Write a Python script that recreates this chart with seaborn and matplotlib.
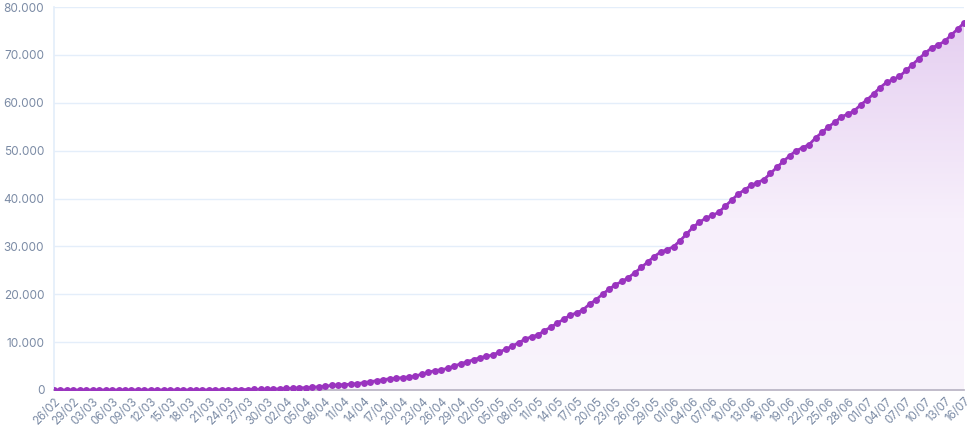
import numpy as np
import pandas as pd
import matplotlib
matplotlib.use("Agg")
import matplotlib.pyplot as plt
import seaborn as sns
from matplotlib.ticker import FuncFormatter

# Cumulative totals, 26/02 to 16/07 (one value per day)
zeros_before = [0] * 20  # 26/02 .. 16/03
march = [1, 4, 7, 11, 18, 25, 34, 46, 59, 77, 92, 111, 136, 159, 201]
april = [240, 324, 359, 445, 486, 553, 667, 800, 941, 1056, 1124, 1223, 1328, 1532,
         1736, 1924, 2141, 2354, 2462, 2575, 2741, 2906, 3331, 3704, 4057, 4205,
         4543, 5017, 5466, 5901]
may = [6329, 6750, 7025, 7321, 7921, 8536, 9146, 9897, 10627, 11123, 11519, 12400,
       13149, 13993, 14817, 15633, 16118, 16792, 17971, 18859, 20047, 21048, 22013,
       22666, 23473, 24512, 25598, 26754, 27878, 28834, 29314]
june = [29937, 31199, 32548, 34021, 35026, 35930, 36455, 37134, 38406, 39680, 40919,
        41828, 42720, 43332, 43959, 45241, 46510, 47748, 48954, 49976, 50617, 51271,
        52645, 53830, 54971, 55961, 57070, 57622, 58314, 59594]
july = [60632, 61884, 63174, 64265, 64867, 65487, 66741, 67964, 69184, 70398, 71469,
        72100, 72833, 74133, 75366, 76688]

values = zeros_before + march + april + may + june + july
dates = pd.date_range("2020-02-26", "2020-07-16", freq="D")
labels = [d.strftime("%d/%m") for d in dates]

df = pd.DataFrame({"idx": np.arange(len(values)), "total": values})

sns.set_theme(style="white")
plt.rcParams["font.family"] = ["Inter", "DejaVu Sans"]

line_color = "#9a34bf"
tick_color = "#7b8ba5"
grid_color = "#e4eefa"

fig = plt.figure(figsize=(9.73, 4.26), dpi=100)
ax = fig.add_axes([54 / 973, 36 / 426, 910 / 973, 383 / 426])

ymax = 80000
ax.set_xlim(0, len(values) - 1)
ax.set_ylim(0, ymax)

# gradient fill under the curve
grad = np.linspace(0, 1, 256)
top = np.array([228, 205, 240]) / 255
mid = np.array([247, 239, 251]) / 255
bot = np.array([249, 244, 252]) / 255
rgb = np.zeros((256, 1, 3))
for i, g in enumerate(grad):
    if g > 0.45:
        t = (g - 0.45) / 0.55
        rgb[i, 0] = mid * (1 - t) + top * t
    else:
        t = g / 0.45
        rgb[i, 0] = bot * (1 - t) + mid * t
img = ax.imshow(rgb, aspect="auto", origin="lower",
                extent=[0, len(values) - 1, 0, ymax], zorder=1)
poly = ax.fill_between(df["idx"], df["total"], 0, color="none")
img.set_clip_path(poly.get_paths()[0], transform=ax.transData)

sns.lineplot(data=df, x="idx", y="total", ax=ax, color=line_color, linewidth=2.0,
             marker="o", markersize=5, markeredgewidth=0, zorder=3)

ax.set_yticks(np.arange(0, ymax + 1, 10000))
ax.yaxis.set_major_formatter(FuncFormatter(lambda v, p: f"{int(v):,}".replace(",", ".")))
ax.set_xticks(df["idx"][::3])
ax.set_xticklabels(labels[::3], rotation=45, ha="right", rotation_mode="anchor")

ax.grid(axis="y", color=grid_color, linewidth=1)
ax.set_axisbelow(True)
for s in ["top", "right"]:
    ax.spines[s].set_visible(False)
ax.spines["left"].set_color(grid_color)
ax.spines["bottom"].set_color("#b9b4c4")
ax.tick_params(axis="both", colors=tick_color, length=3, width=0.8)
ax.tick_params(axis="x", pad=1, labelsize=8.3)
ax.tick_params(axis="y", length=4, color=grid_color, labelsize=8.5, pad=3)
ax.set_xlabel("")
ax.set_ylabel("")

fig.savefig("out.png", dpi=100)
